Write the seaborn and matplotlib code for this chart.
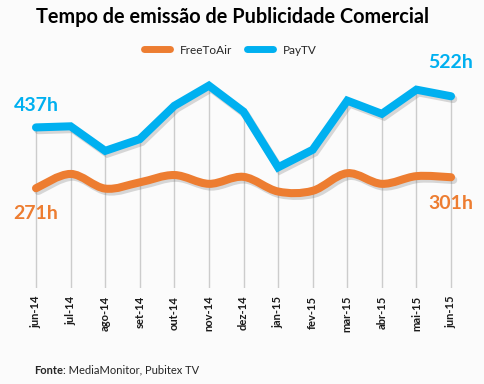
import numpy as np
import pandas as pd
import matplotlib
matplotlib.use('Agg')
import matplotlib.pyplot as plt
import matplotlib.patheffects as pe
from matplotlib.path import Path
from matplotlib.patches import PathPatch
from matplotlib.lines import Line2D
import seaborn as sns

# Dados (horas de publicidade por mes)
meses = ['jun-14', 'jul-14', 'ago-14', 'set-14', 'out-14', 'nov-14', 'dez-14',
         'jan-15', 'fev-15', 'mar-15', 'abr-15', 'mai-15', 'jun-15']
free_to_air = [271, 310, 270, 287, 307, 283, 302, 262, 264, 312, 283, 304, 301]
pay_tv = [437, 440, 373, 405, 496, 551, 480, 328, 376, 510, 474, 540, 522]

laranja = '#ED7D31'
azul = '#00B0F0'
fundo = '#FBFBFB'

sns.set_style('white')
plt.rcParams['font.family'] = ['Lato', 'DejaVu Sans']

df = pd.DataFrame({'mes': range(len(meses)), 'PayTV': pay_tv, 'FreeToAir': free_to_air})

fig = plt.figure(figsize=(4.85, 3.84), dpi=100, facecolor=fundo)
ax = fig.add_axes([0.0386, 0.2513, 0.927, 0.5724])
ax.set_facecolor(fundo)

sombra = [pe.SimpleLineShadow(offset=(1.6, -2.0), shadow_color='#777777', alpha=0.28), pe.Normal()]

# linhas verticais (drop lines) ate ao maximo das duas series
topo = df[['PayTV', 'FreeToAir']].max(axis=1)
ax.vlines(df['mes'], 0, topo, color='#cccccc', lw=1, zorder=1)

# PayTV - linha reta
sns.lineplot(data=df, x='mes', y='PayTV', color=azul, lw=5.8, ax=ax,
             solid_capstyle='round', solid_joinstyle='miter', zorder=3,
             path_effects=sombra)

# FreeToAir - linha suavizada (bezier estilo Excel)
xs = df['mes'].to_numpy(dtype=float)
ys = df['FreeToAir'].to_numpy(dtype=float)
pts = np.column_stack([xs, ys])
verts = [pts[0]]
codes = [Path.MOVETO]
n = len(pts)
for i in range(n - 1):
    p0 = pts[max(i - 1, 0)]
    p1 = pts[i]
    p2 = pts[i + 1]
    p3 = pts[min(i + 2, n - 1)]
    c1 = p1 + (p2 - p0) / 6
    c2 = p2 - (p3 - p1) / 6
    verts += [c1, c2, p2]
    codes += [Path.CURVE4] * 3
curva = PathPatch(Path(verts, codes), fill=False, edgecolor=laranja, lw=5.8,
                  capstyle='round', zorder=2, path_effects=sombra)
ax.add_patch(curva)

ax.set_xlim(-0.5, 12.5)
ax.set_ylim(0, 600)
ax.set_xticks(range(len(meses)))
ax.set_xticklabels(meses, rotation=90, fontsize=8, fontweight='bold', color='#1a1a1a')
ax.tick_params(axis='x', length=0, pad=6)
ax.set_yticks([])
ax.set_xlabel('')
ax.set_ylabel('')
for s in ax.spines.values():
    s.set_visible(False)

# etiquetas de valor
ax.annotate(f'{pay_tv[0]}h', (0, pay_tv[0]), xytext=(0, 10), textcoords='offset points',
            ha='center', va='bottom', color=azul, fontsize=14, fontweight='bold')
ax.annotate(f'{pay_tv[-1]}h', (12, pay_tv[-1]), xytext=(0, 18), textcoords='offset points',
            ha='center', va='bottom', color=azul, fontsize=14, fontweight='bold')
ax.annotate(f'{free_to_air[0]}h', (0, free_to_air[0]), xytext=(0, -12), textcoords='offset points',
            ha='center', va='top', color=laranja, fontsize=14, fontweight='bold')
ax.annotate(f'{free_to_air[-1]}h', (12, free_to_air[-1]), xytext=(0, -12.5), textcoords='offset points',
            ha='center', va='top', color=laranja, fontsize=14, fontweight='bold')

# legenda
handles = [Line2D([], [], color=laranja, lw=5, solid_capstyle='round'),
           Line2D([], [], color=azul, lw=5, solid_capstyle='round')]
fig.legend(handles, ['FreeToAir', 'PayTV'], loc='center', bbox_to_anchor=(0.475, 1 - 50 / 384),
           ncol=2, frameon=False, fontsize=8.5, handlelength=2.2, columnspacing=1.2,
           handletextpad=0.9)

fig.text(233 / 485, 1 - 17 / 384, 'Tempo de emissão de Publicidade Comercial', ha='center', va='center',
         fontsize=14.3, fontweight='bold', color='black')

fonte = fig.text(34 / 485, 1 - 370 / 384, 'Fonte', ha='left', va='center', fontsize=8, fontweight='bold')
ax.annotate(': MediaMonitor, Pubitex TV', xy=(1, 0.5), xycoords=fonte, ha='left', va='center',
            fontsize=8, annotation_clip=False)

plt.savefig('out.png', dpi=100, facecolor=fundo)
plt.close()
